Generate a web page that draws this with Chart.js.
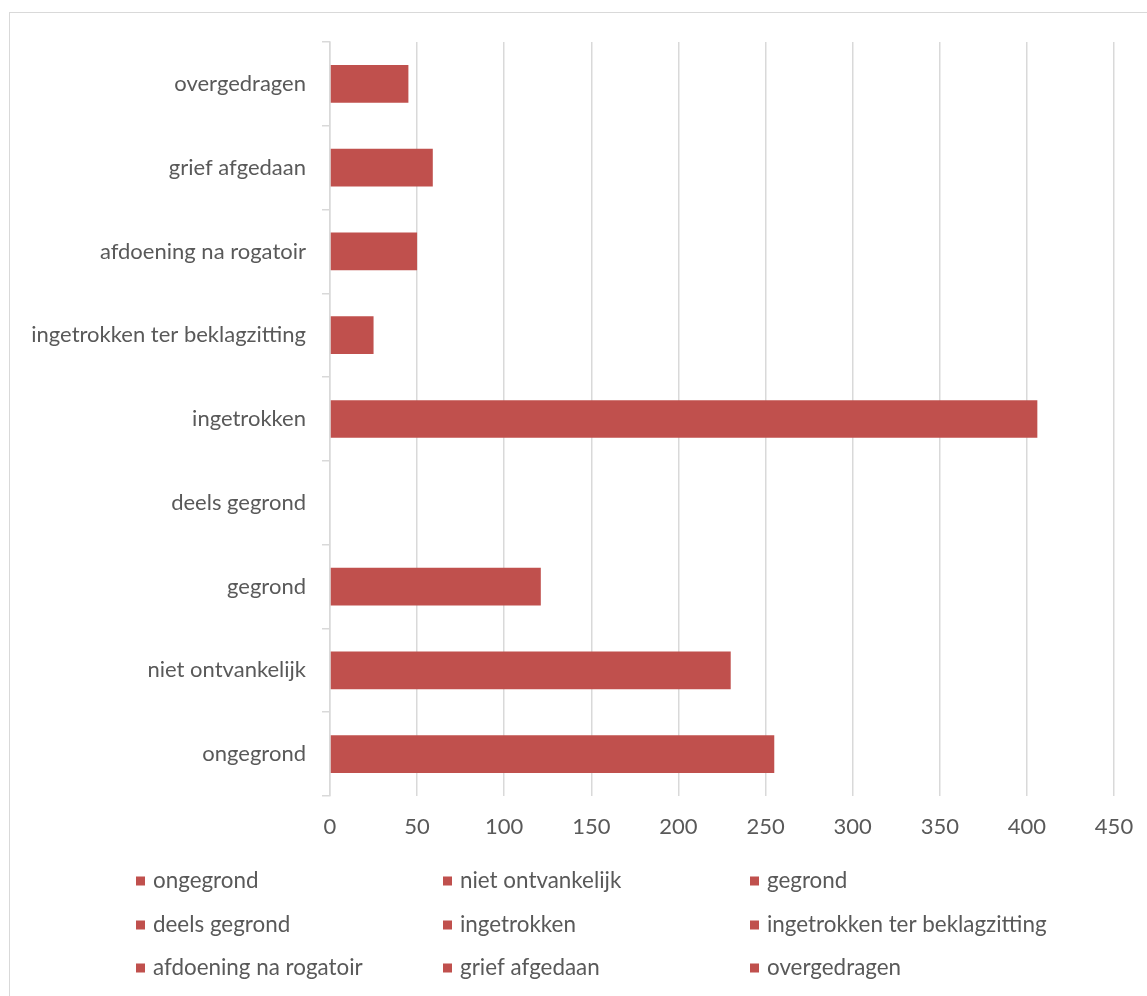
<!DOCTYPE html>
<html>
<head>
<meta charset="utf-8">
<script src="https://cdn.jsdelivr.net/npm/chart.js@4.4.0/dist/chart.umd.min.js"></script>
<style>
  html, body { margin:0; padding:0; background:#fff; overflow:hidden; width:1147px; height:996px; }
  #frame { position:absolute; left:9px; top:12px; width:1300px; height:1200px; border:1.5px solid #d9d9d9; box-sizing:border-box; }
  #c { position:absolute; left:0; top:0; }
</style>
</head>
<body>
<div id="frame"></div>
<canvas id="c" width="1147" height="996"></canvas>
<script>
// ---- data ----
const categories = ["ongegrond", "niet ontvankelijk", "gegrond", "deels gegrond", "ingetrokken",
  "ingetrokken ter beklagzitting", "afdoening na rogatoir", "grief afgedaan", "overgedragen"];
const counts = [255, 230, 121, 0, 406, 25, 50, 59, 45];
const xTicks = [0, 50, 100, 150, 200, 250, 300, 350, 400, 450];

const FONT = "Lato, 'Open Sans', sans-serif";
const TEXT = "#595959";
const GRID = "#d9d9d9";
const BAR = "#C0504D";

const gridLegend = {
  id: 'gridLegend',
  afterDraw(chart) {
    const ctx = chart.ctx;
    const colX = [136, 443, 750];
    const rowY = [881, 925, 968];
    ctx.save();
    ctx.font = "22.4px " + FONT;
    ctx.textBaseline = "middle";
    ctx.textAlign = "left";
    chart.data.labels.forEach((lab, i) => {
      const x = colX[i % 3], y = rowY[Math.floor(i / 3)];
      ctx.fillStyle = BAR;
      ctx.fillRect(x, y - 4.5, 9, 9);
      ctx.fillStyle = TEXT;
      ctx.fillText(lab, x + 17, y);
    });
    ctx.restore();
  }
};

new Chart(document.getElementById('c'), {
  type: 'bar',
  data: {
    labels: categories,
    datasets: [{
      label: 'aantal',
      data: counts,
      backgroundColor: BAR,
      borderWidth: 0,
      barPercentage: 0.45,
      categoryPercentage: 1.0
    }]
  },
  options: {
    indexAxis: 'y',
    responsive: false,
    animation: false,
    layout: { padding: { left: 0, top: 42, right: 33, bottom: 150 } },
    plugins: { legend: { display: false }, tooltip: { enabled: false } },
    scales: {
      x: {
        min: 0, max: 450,
        afterBuildTicks: (s) => { s.ticks = xTicks.map(v => ({ value: v })); },
        afterFit: (s) => { s.height = 50; s.paddingLeft = 0; s.paddingRight = 0; },
        grid: { color: GRID, lineWidth: 1.5, drawTicks: false },
        border: { display: false },
        ticks: { color: TEXT, font: { family: FONT, size: 22 }, padding: 18, maxRotation: 0 }
      },
      y: {
        reverse: true,
        afterFit: (s) => { s.width = 330; s.paddingTop = 0; s.paddingBottom = 0; },
        grid: { offset: true, drawOnChartArea: false, color: GRID, lineWidth: 1.5, tickLength: 8 },
        border: { display: true, color: GRID, width: 1.5 },
        ticks: { color: TEXT, font: { family: FONT, size: 22 }, padding: 16 }
      }
    }
  },
  plugins: [gridLegend]
});
</script>
</body>
</html>
